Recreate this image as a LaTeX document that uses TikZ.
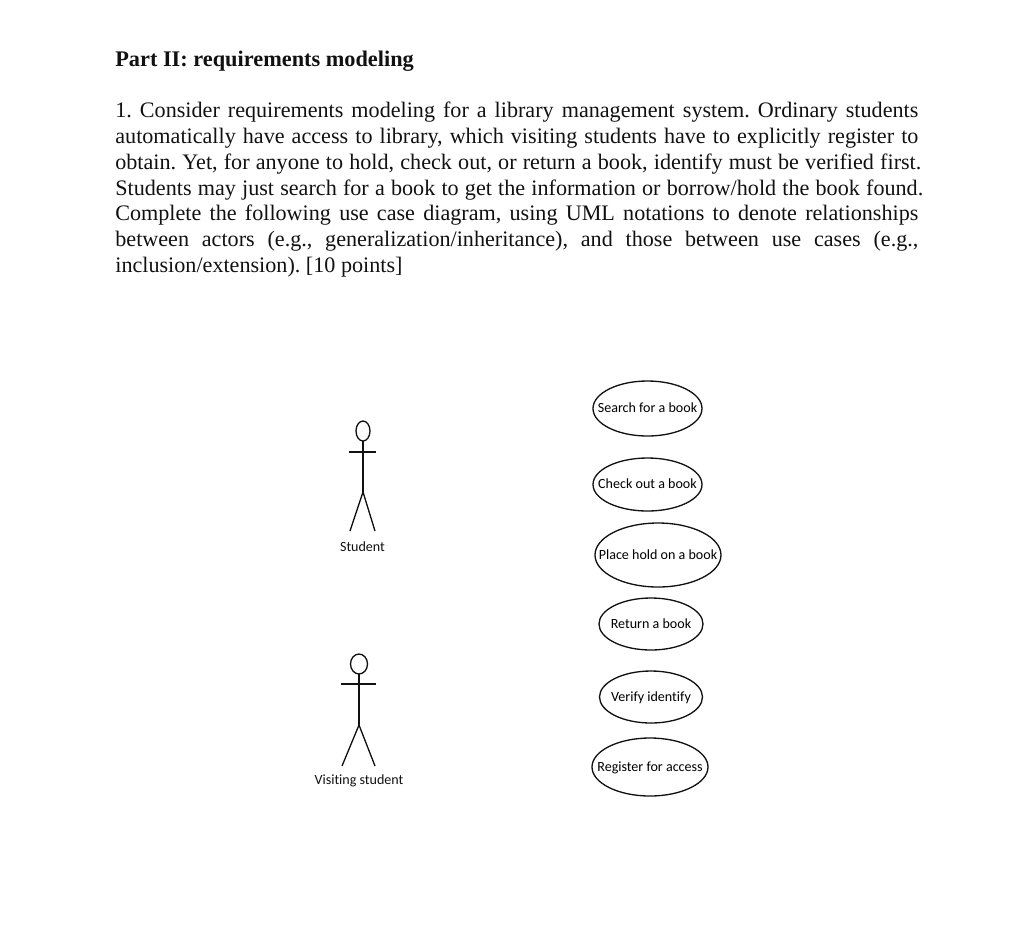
\documentclass[tikz,border=0pt]{standalone}
\usepackage{fontspec}
\setmainfont{Liberation Serif}
\newfontfamily\labelfont[Ligatures=CommonOff]{Carlito}
\usetikzlibrary{shapes.geometric}
\definecolor{blackmain}{HTML}{111111}
\tikzset{
  usecase/.style={draw=blackmain,line width=0.75pt,ellipse,inner xsep=-10pt,inner ysep=0pt,text height=5.5pt,text depth=0.5pt,font=\labelfont\fontsize{8}{10}\selectfont},
  actorlabel/.style={font=\labelfont\fontsize{8}{10}\selectfont,text=blackmain},
  actorline/.style={draw=blackmain,line width=0.75pt}
}
\begin{document}
\begin{tikzpicture}[x=0.02cm,y=-0.02cm]
  \useasboundingbox (0,0) rectangle (1024,924);
  \node[anchor=base west,inner sep=0pt,font=\bfseries\fontsize{12.7}{15}\selectfont,text=blackmain] (title) at (115,66) {Part II: requirements modeling};
  \node[anchor=north west,inner sep=0pt,text width=803*0.02cm,align=justify,font=\frenchspacing\fontsize{12.6}{14.65}\selectfont,text=blackmain] (question) at (115,102) {%
    1. Consider requirements modeling for a library management system. Ordinary students\linebreak
    automatically have access to library, which visiting students have to explicitly register to\linebreak
    obtain. Yet, for anyone to hold, check out, or return a book, identify must be verified first.\hspace*{-1.7pt}\linebreak
    Students may just search for a book to get the information or borrow/hold the book found.\hspace*{-2.8pt}\linebreak
    Complete the following use case diagram, using UML notations to denote relationships\linebreak
    between actors (e.g., generalization/inheritance), and those between use cases (e.g.,\linebreak
    inclusion/extension). [10 points]};
  % student
  \coordinate (shead) at (363,441);
  \coordinate (shandl) at (349,452);
  \coordinate (shandr) at (376,452);
  \coordinate (sneck) at (363,452);
  \coordinate (ship) at (363,492);
  \coordinate (sfootl) at (350,531);
  \coordinate (sfootr) at (375,531);
  \draw[actorline] (363,431) ellipse (7 and 10);
  \draw[actorline] (shandl)--(shandr);
  \draw[actorline] (shead)--(sneck)--(ship);
  \draw[actorline] (sfootl)--(ship)--(sfootr);
  \node[actorlabel] (student) at (362.5,547) {Student};
  % visiting student
  \coordinate (vhead) at (359,674);
  \coordinate (vhandl) at (341,684);
  \coordinate (vhandr) at (376,684);
  \coordinate (vneck) at (359,684);
  \coordinate (vhip) at (359,725);
  \coordinate (vfootl) at (342,766);
  \coordinate (vfootr) at (375,766);
  \draw[actorline] (359,664) ellipse (8.5 and 10);
  \draw[actorline] (vhandl)--(vhandr);
  \draw[actorline] (vhead)--(vneck)--(vhip);
  \draw[actorline] (vfootl)--(vhip)--(vfootr);
  \node[actorlabel] (visiting) at (359,780.5) {Visiting student};
  % use cases
  \node[usecase,minimum width=109*0.02cm,minimum height=55*0.02cm] (search) at (647.5,408.5) {Search for a book};
  \node[usecase,minimum width=109*0.02cm,minimum height=53*0.02cm] (checkout) at (647.5,484.5) {Check out a book};
  \node[usecase,minimum width=126*0.02cm,minimum height=64*0.02cm] (hold) at (658,555) {Place hold on a book};
  \node[usecase,minimum width=104*0.02cm,minimum height=52*0.02cm] (return) at (651,624) {Return a book};
  \node[usecase,minimum width=103*0.02cm,minimum height=52*0.02cm] (verify) at (651,697) {Verify identify};
  \node[usecase,minimum width=116*0.02cm,minimum height=58*0.02cm] (register) at (650,767) {Register for access};
\end{tikzpicture}
\end{document}
